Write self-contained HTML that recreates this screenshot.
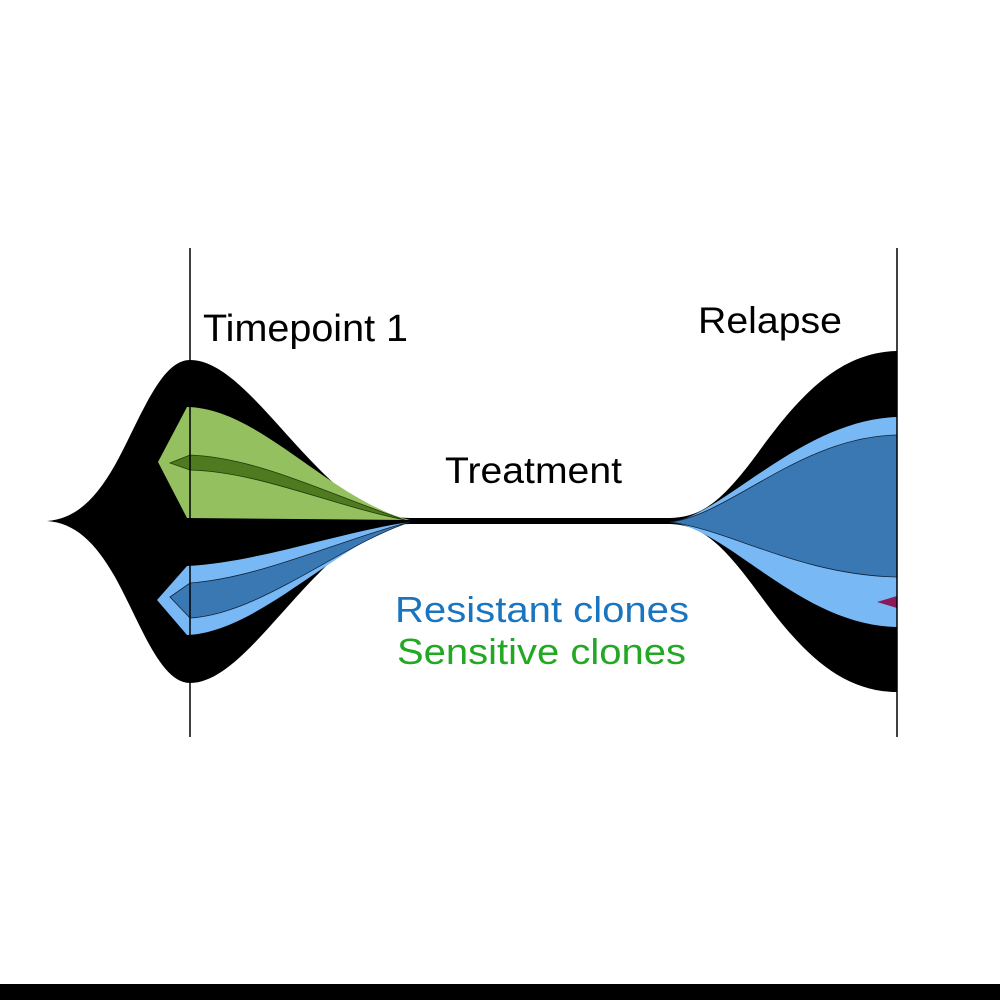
<!DOCTYPE html>
<html><head><meta charset="utf-8"><style>
html,body{margin:0;padding:0;background:#fff;}
svg{display:block;}
text{font-family:"Liberation Sans",Arial,sans-serif;}
</style></head><body>
<svg width="1000" height="1000" viewBox="0 0 1000 1000" xmlns="http://www.w3.org/2000/svg">
<rect width="1000" height="1000" fill="#fff"/>
<path d="M47,521 C75,519 95,500 115,465 C140,420 160,360 190,360 C230,360 270,420 320,470 C360,510 380,517 410,518 L670,518 C700,517 720,505 760,450 C800,395 840,352 897,351 L897,692 C840,692 800,650 760,595 C720,540 700,525 670,524 L410,524 C380,525 360,532 320,572 C270,622 230,683 190,683 C160,683 140,622 115,577 C95,542 75,523 47,521 Z" fill="#000"/>
<path d="M158,462 L187,407 C260,408 330,500 410,520 L187,518 Z" fill="#95c05f"/>
<path d="M170,463 L190,455 C260,458 330,495 405,520 C330,505 260,472 190,470 Z" fill="#4f7a1f" stroke="#1e3a08" stroke-width="0.8"/>
<path d="M157,600 L187,566 C260,562 340,532 410,522 C340,540 260,632 187,635 Z" fill="#78b8f5"/>
<path d="M170,597 L190,583 C260,578 340,540 410,522 C340,545 260,614 190,618 Z" fill="#3a78b4" stroke="#10243a" stroke-width="0.8"/>
<path d="M670,522 C720,518 800,420 897,417 L897,627 C800,625 730,530 670,522 Z" fill="#78b8f5"/>
<path d="M670,522 C730,515 800,437 897,435 L897,577 C800,575 730,530 670,522 Z" fill="#3a78b4" stroke="#10243a" stroke-width="0.8"/>
<path d="M877,602 L897,596 L897,608 Z" fill="#8a1a5a"/>
<line x1="190" y1="248" x2="190" y2="737" stroke="#000" stroke-width="1.5"/>
<line x1="897" y1="248" x2="897" y2="737" stroke="#000" stroke-width="1.5"/>
<text x="203" y="341" font-size="38" textLength="205" lengthAdjust="spacingAndGlyphs">Timepoint 1</text>
<text x="698" y="333" font-size="37" textLength="144" lengthAdjust="spacingAndGlyphs">Relapse</text>
<text x="445" y="483" font-size="37" textLength="177" lengthAdjust="spacingAndGlyphs">Treatment</text>
<text x="395" y="622" font-size="36" fill="#1a75c0" textLength="294" lengthAdjust="spacingAndGlyphs">Resistant clones</text>
<text x="397" y="664" font-size="36" fill="#22a822" textLength="289" lengthAdjust="spacingAndGlyphs">Sensitive clones</text>
<rect x="0" y="984" width="1000" height="16" fill="#000"/>
</svg>
</body></html>
